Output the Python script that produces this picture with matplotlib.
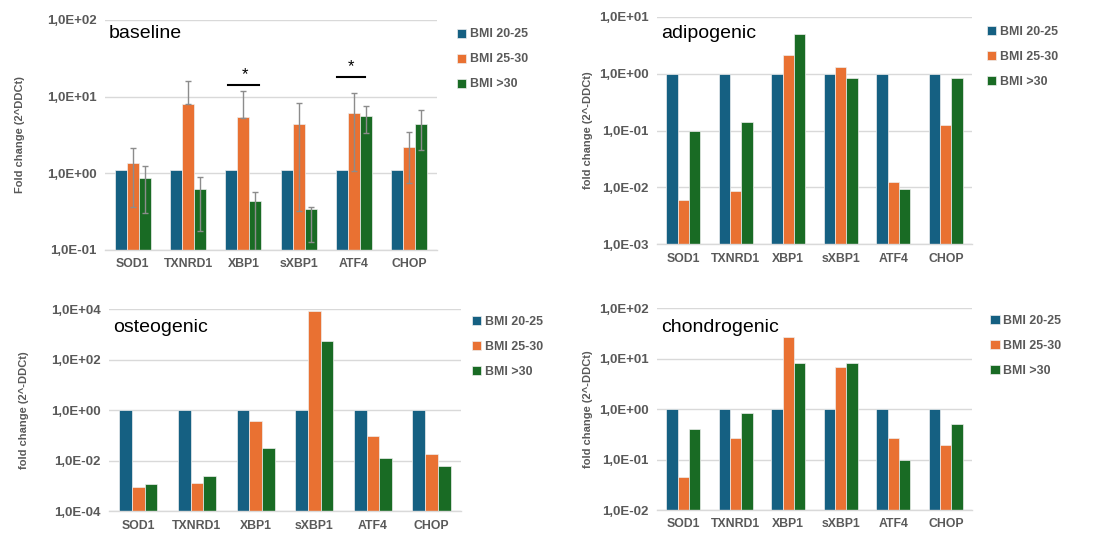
import numpy as np
import matplotlib
matplotlib.use("Agg")
from matplotlib import pyplot as plt

plt.rcParams['font.family'] = ['Liberation Sans', 'DejaVu Sans']

genes = ['SOD1', 'TXNRD1', 'XBP1', 'sXBP1', 'ATF4', 'CHOP']
groups = ['BMI 20-25', 'BMI 25-30', 'BMI >30']
colors = ['#156082', '#E97132', '#196B24']

# baseline (with error bars)
base_20_25 = [1.0, 1.0, 1.0, 1.0, 1.0, 1.0]
base_25_30 = [1.25, 7.95, 5.28, 4.24, 5.96, 2.09]
base_gt30 = [0.77, 0.53, 0.33, 0.245, 5.5, 4.33]
base_25_30_err_lo = [0.885, 0.0, 0.0, 3.92, 4.9, 1.34]
base_25_30_err_hi = [0.9, 8.15, 6.42, 4.03, 5.04, 1.35]
base_gt30_err_lo = [0.47, 0.355, 0.25, 0.119, 2.16, 2.34]
base_gt30_err_hi = [0.49, 0.366, 0.248, 0.121, 2.14, 2.38]

# adipogenic
adipo_20_25 = [1.0, 1.0, 1.0, 1.0, 1.0, 1.0]
adipo_25_30 = [0.0049, 0.0077, 2.1, 1.33, 0.0115, 0.124]
adipo_gt30 = [0.097, 0.143, 4.9, 0.84, 0.0083, 0.84]

# osteogenic
osteo_20_25 = [1.0, 1.0, 1.0, 1.0, 1.0, 1.0]
osteo_25_30 = [0.00079, 0.00127, 0.38, 8900, 0.1, 0.0189]
osteo_gt30 = [0.00113, 0.0024, 0.0307, 530, 0.0131, 0.006]

# chondrogenic
chondro_20_25 = [1.0, 1.0, 1.0, 1.0, 1.0, 1.0]
chondro_25_30 = [0.036, 0.261, 27.4, 6.83, 0.261, 0.181]
chondro_gt30 = [0.40, 0.846, 8.33, 8.08, 0.0872, 0.504]

# significance marks on baseline: (x start, x end, line y, star x, star y)
sig_marks = [(1.715, 2.28, 14.4, 2.02, 19.3), (3.7, 4.19, 18.2, 3.95, 24.5)]

grey = '#595959'
grid = '#D9D9D9'
bw = 0.217


def draw_panel(fig, rect, title, series, ylim, yticks, ylabel, ylabel_x,
               title_y, legend_xy, errs=None):
    ax = fig.add_axes(rect)
    ax.set_yscale('log')
    x = np.arange(len(genes))
    for i, vals in enumerate(series):
        ax.bar(x + (i - 1) * bw, vals, width=bw, bottom=ylim[0], color=colors[i],
               edgecolor='#eeeeee', linewidth=0.5, label=groups[i], zorder=2)
    if errs is not None:
        for i, (lo, hi) in errs.items():
            ax.errorbar(x + (i - 1) * bw, series[i], yerr=[lo, hi], fmt='none',
                        ecolor='#8c8c8c', elinewidth=1, capsize=2.5, capthick=1, zorder=3)
    ax.set_ylim(*ylim)
    ax.set_xlim(-0.5, len(genes) - 0.5)
    ax.set_yticks(yticks)
    ax.set_yticklabels([('%.1E' % t).replace('.', ',') for t in yticks])
    ax.minorticks_off()
    ax.yaxis.grid(True, color=grid, linewidth=1, zorder=0)
    ax.set_axisbelow(True)
    ax.set_xticks(x)
    ax.set_xticklabels(genes)
    for s in ['top', 'right', 'left']:
        ax.spines[s].set_visible(False)
    ax.spines['bottom'].set_color(grid)
    ax.spines['bottom'].set_linewidth(1)
    ax.tick_params(axis='both', length=0, colors=grey)
    ax.tick_params(axis='y', pad=6, labelsize=9.5)
    ax.tick_params(axis='x', pad=6, labelsize=8.8)
    for lab in ax.get_xticklabels() + ax.get_yticklabels():
        lab.set_fontweight('bold')
    ax.set_ylabel(ylabel, color=grey, fontsize=8, fontweight='bold')
    ax.yaxis.set_label_coords(ylabel_x, 0.5)
    ax.text(0.012, title_y, title, transform=ax.transAxes, fontsize=14,
            va='center', ha='left', color='black')
    leg = ax.legend(loc='upper left', bbox_to_anchor=legend_xy,
                    bbox_transform=fig.transFigure, frameon=False,
                    handlelength=0.75, handleheight=0.75, handletextpad=0.3,
                    labelspacing=1.05, borderpad=0, borderaxespad=0,
                    prop={'size': 8.9, 'weight': 'bold'})
    for t in leg.get_texts():
        t.set_color(grey)
    return ax


fig = plt.figure(figsize=(10.93, 5.36), dpi=100)

ax1 = draw_panel(fig, [0.0961, 0.5336, 0.3038, 0.4291], 'baseline',
                 [base_20_25, base_25_30, base_gt30], (0.1, 100), [0.1, 1, 10, 100],
                 'Fold change (2^DDCt)', -0.241, 0.943, (0.418, 0.947),
                 errs={1: (base_25_30_err_lo, base_25_30_err_hi),
                       2: (base_gt30_err_lo, base_gt30_err_hi)})
for x0, x1, ly, sx, sy in sig_marks:
    ax1.plot([x0, x1], [ly, ly], color='black', linewidth=1.5, zorder=4)
    ax1.text(sx, sy, '*', ha='center', va='center', fontsize=12, color='black')

draw_panel(fig, [0.6011, 0.5442, 0.2882, 0.4246], 'adipogenic',
           [adipo_20_25, adipo_25_30, adipo_gt30], (0.001, 10), [0.001, 0.01, 0.1, 1, 10],
           'fold change (2^-DDCt)', -0.203, 0.928, (0.903, 0.952))

draw_panel(fig, [0.0997, 0.0461, 0.322, 0.3769], 'osteogenic',
           [osteo_20_25, osteo_25_30, osteo_gt30], (1e-4, 1e4), [1e-4, 1e-2, 1, 1e2, 1e4],
           'fold change (2^-DDCt)', -0.227, 0.912, (0.432, 0.410))

draw_panel(fig, [0.6011, 0.0485, 0.2882, 0.3763], 'chondrogenic',
           [chondro_20_25, chondro_25_30, chondro_gt30], (0.01, 100), [0.01, 0.1, 1, 10, 100],
           'fold change (2^-DDCt)', -0.203, 0.907, (0.906, 0.412))

fig.savefig('out.png', dpi=100)
